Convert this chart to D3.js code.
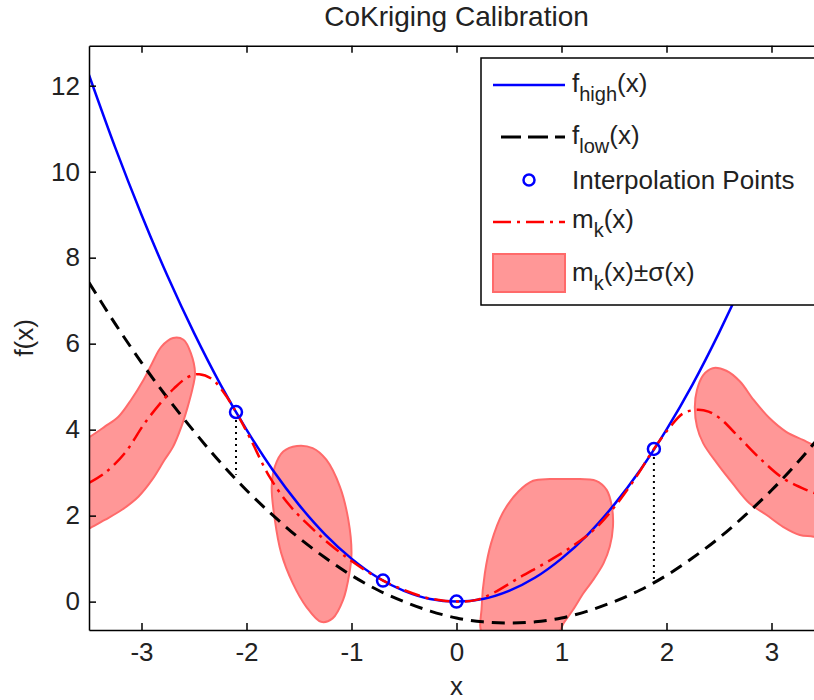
<!DOCTYPE html>
<html lang="en">
<head>
<meta charset="UTF-8">
<title>CoKriging Calibration</title>
<script src="https://d3js.org/d3.v7.min.js"></script>
<style>
  html, body { margin: 0; padding: 0; background: #fff; }
  svg { display: block; font-family: "Liberation Sans", Arial, sans-serif; }
  .tick text { font-size: 26px; fill: #222; }
</style>
</head>
<body>
<svg id="chart" width="814" height="700"></svg>
<script>
/* ---------- data ---------- */
const xGrid = [-3.5, -3.25, -3, -2.75, -2.5, -2.25, -2, -1.75, -1.5, -1.25, -1, -0.75, -0.5, -0.25,
               0, 0.25, 0.5, 0.75, 1, 1.25, 1.5, 1.75, 2, 2.25, 2.5, 2.75, 3, 3.25, 3.5];
const fHigh = [12.25, 10.56, 9.0, 7.56, 6.25, 5.06, 4.0, 3.06, 2.25, 1.56, 1.0, 0.56, 0.25, 0.06,
               0, 0.06, 0.25, 0.56, 1.0, 1.56, 2.25, 3.06, 4.0, 5.06, 6.25, 7.56, 9.0, 10.56, 12.25];
const fLow  = [7.42, 6.46, 5.56, 4.73, 3.96, 3.24, 2.59, 2.01, 1.48, 1.02, 0.61, 0.27, 0.0, -0.22,
               -0.38, -0.47, -0.5, -0.47, -0.38, -0.22, 0.0, 0.27, 0.61, 1.02, 1.48, 2.01, 2.59, 3.24, 3.96];

// kriging mean m_k(x)
const mkX = [-3.5, -3.35, -3.16, -2.97, -2.78, -2.69, -2.56, -2.45, -2.33, -2.21, -2.1, -1.97, -1.78,
             -1.59, -1.4, -1.21, -1.02, -0.85, -0.7, -0.5, -0.3, -0.15, 0, 0.19, 0.35, 0.6, 0.89,
             1.14, 1.33, 1.52, 1.7, 1.88, 2.03, 2.16, 2.29, 2.4, 2.51, 2.7, 2.92, 3.11, 3.33, 3.5];
const mkY = [2.76, 2.99, 3.45, 4.15, 4.73, 4.96, 5.22, 5.29, 5.18, 4.84, 4.41, 3.82, 2.9,
             2.24, 1.76, 1.34, 0.98, 0.7, 0.49, 0.27, 0.1, 0.03, 0, 0.04, 0.2, 0.56, 0.96,
             1.35, 1.72, 2.25, 2.86, 3.55, 4.05, 4.38, 4.46, 4.42, 4.26, 3.8, 3.26, 2.87, 2.6, 2.45];

// interpolation points and the dotted drops to f_low
const ptsX = [-2.1, -0.7, 0, 1.88];
const ptsY = [4.41, 0.49, 0, 3.55];
const dropX = [-2.1, 1.88];
const dropTop = [4.41, 3.55];
const dropBottom = [2.95, 0.47];

// m_k(x) ± sigma(x) patches (outlines)
const blobAx = [-3.6, -3.49, -3.35, -3.22, -3.1, -2.98, -2.9, -2.81, -2.7, -2.6, -2.53, -2.49, -2.51,
                -2.56, -2.62, -2.7, -2.78, -2.9, -3.03, -3.19, -3.35, -3.49, -3.6];
const blobAy = [3.7, 3.84, 4.07, 4.3, 4.69, 5.16, 5.54, 5.93, 6.13, 6.09, 5.78, 5.31, 5.0,
                4.53, 4.07, 3.6, 3.3, 2.83, 2.44, 2.13, 1.9, 1.71, 1.6];
const blobBx = [-1.52, -1.65, -1.73, -1.76, -1.73, -1.67, -1.56, -1.43, -1.29, -1.18, -1.08, -1.02,
                -1.0, -1.03, -1.11, -1.24, -1.37];
const blobBy = [3.62, 3.49, 3.14, 2.67, 1.9, 1.13, 0.43, -0.12, -0.47, -0.39, 0.04, 0.66,
                1.13, 1.9, 2.67, 3.3, 3.57];
const blobCx = [0.25, 0.24, 0.27, 0.33, 0.44, 0.59, 0.73, 0.89, 1.08, 1.33, 1.43, 1.48, 1.49,
                1.46, 1.4, 1.3, 1.21, 1.11, 1.02, 0.95, 0.6];
const blobCy = [-0.75, -0.12, 0.66, 1.36, 2.06, 2.56, 2.81, 2.85, 2.85, 2.81, 2.6, 2.21, 1.74,
                1.28, 0.89, 0.5, 0.2, -0.19, -0.5, -0.8, -1.0];
const blobDx = [2.29, 2.27, 2.29, 2.35, 2.44, 2.57, 2.7, 2.83, 2.98, 3.14, 3.3, 3.4, 3.6,
                3.6, 3.4, 3.27, 3.11, 2.95, 2.79, 2.63, 2.48, 2.35];
const blobDy = [4.07, 4.53, 4.92, 5.27, 5.43, 5.37, 5.12, 4.69, 4.27, 3.95, 3.76, 3.64, 3.45,
                1.4, 1.51, 1.55, 1.74, 2.02, 2.29, 2.75, 3.22, 3.68];

const xTicks = [-3, -2, -1, 0, 1, 2, 3];
const yTicks = [0, 2, 4, 6, 8, 10, 12];

/* ---------- layout ---------- */
const svg = d3.select('#chart');
const pLeft = 89, pRight = 824, pTop = 45.7, pBottom = 630;

const x = d3.scaleLinear().domain([-3.5, 3.5]).range([pLeft, pRight]);
const y = d3.scaleLinear().domain([-0.66, 12.93]).range([pBottom, pTop]);

svg.append('defs').append('clipPath').attr('id', 'plotClip')
  .append('rect').attr('x', pLeft).attr('y', pTop)
  .attr('width', pRight - pLeft).attr('height', pBottom - pTop);

const plot = svg.append('g').attr('clip-path', 'url(#plotClip)');

const bandFill = '#ff9797', bandEdge = '#ff6a6a';
const blobLine = d3.line().x(d => x(d[0])).y(d => y(d[1])).curve(d3.curveCatmullRomClosed);
[[blobAx, blobAy], [blobBx, blobBy], [blobCx, blobCy], [blobDx, blobDy]].forEach(([bx, by]) => {
  plot.append('path')
    .attr('d', blobLine(bx.map((v, i) => [v, by[i]])))
    .attr('fill', bandFill).attr('stroke', bandEdge).attr('stroke-width', 2);
});

const curve = d3.line().x(d => x(d[0])).y(d => y(d[1])).curve(d3.curveCatmullRom);

plot.append('path')
  .attr('d', curve(xGrid.map((v, i) => [v, fLow[i]])))
  .attr('fill', 'none').attr('stroke', '#000').attr('stroke-width', 3)
  .attr('stroke-dasharray', '13,8');

plot.append('path')
  .attr('d', curve(xGrid.map((v, i) => [v, fHigh[i]])))
  .attr('fill', 'none').attr('stroke', '#0000ff').attr('stroke-width', 2.5);

plot.append('path')
  .attr('d', curve(mkX.map((v, i) => [v, mkY[i]])))
  .attr('fill', 'none').attr('stroke', '#ff0000').attr('stroke-width', 2.5)
  .attr('stroke-dasharray', '16,6,3,6');

plot.selectAll('line.drop').data(dropX).join('line')
  .attr('class', 'drop')
  .attr('x1', d => x(d)).attr('x2', d => x(d))
  .attr('y1', (d, i) => y(dropTop[i]) + 8).attr('y2', (d, i) => y(dropBottom[i]))
  .attr('stroke', '#000').attr('stroke-width', 2).attr('stroke-dasharray', '2,4');

plot.selectAll('circle.pt').data(ptsX).join('circle')
  .attr('class', 'pt')
  .attr('cx', d => x(d)).attr('cy', (d, i) => y(ptsY[i]))
  .attr('r', 6).attr('fill', 'none').attr('stroke', '#0000ff').attr('stroke-width', 2.5);

/* ---------- axes ---------- */
const fmt = d => String(d);
const xAxis = svg.append('g').attr('transform', `translate(0,${pBottom})`)
  .call(d3.axisBottom(x).tickValues(xTicks).tickFormat(fmt).tickSizeInner(-7).tickSizeOuter(0).tickPadding(13));
const xTop = svg.append('g').attr('transform', `translate(0,${pTop})`)
  .call(d3.axisTop(x).tickValues(xTicks).tickFormat('').tickSizeInner(-7).tickSizeOuter(0));
const yAxis = svg.append('g').attr('transform', `translate(${pLeft},0)`)
  .call(d3.axisLeft(y).tickValues(yTicks).tickFormat(fmt).tickSizeInner(-7).tickSizeOuter(0).tickPadding(9));
[xAxis, xTop, yAxis].forEach(g => {
  g.selectAll('path.domain').attr('stroke', '#000').attr('stroke-width', 1.5);
  g.selectAll('.tick line').attr('stroke', '#000').attr('stroke-width', 1.5);
  g.selectAll('.tick text').attr('font-size', 26).attr('fill', '#222')
    .attr('font-family', '"Liberation Sans", Arial, sans-serif');
});

svg.append('text').attr('x', (pLeft + pRight) / 2).attr('y', 26)
  .attr('text-anchor', 'middle').attr('font-size', 28).attr('fill', '#222')
  .text('CoKriging Calibration');
svg.append('text').attr('x', (pLeft + pRight) / 2).attr('y', 695)
  .attr('text-anchor', 'middle').attr('font-size', 26).attr('fill', '#222').text('x');
svg.append('text').attr('transform', `translate(33,${(pTop + pBottom) / 2}) rotate(-90)`)
  .attr('text-anchor', 'middle').attr('font-size', 26).attr('fill', '#222').text('f(x)');

/* ---------- legend ---------- */
const lg = svg.append('g');
lg.append('rect').attr('x', 481).attr('y', 58).attr('width', 334).attr('height', 247)
  .attr('fill', '#fff').attr('stroke', '#000').attr('stroke-width', 1.5);

const sx0 = 493, sx1 = 565, tx = 572;
lg.append('line').attr('x1', sx0).attr('x2', sx1).attr('y1', 85).attr('y2', 85)
  .attr('stroke', '#0000ff').attr('stroke-width', 2.5);
lg.append('line').attr('x1', sx0 + 8).attr('x2', sx1).attr('y1', 137).attr('y2', 137)
  .attr('stroke', '#000').attr('stroke-width', 3).attr('stroke-dasharray', '20,7');
lg.append('circle').attr('cx', (sx0 + sx1) / 2).attr('cy', 180).attr('r', 5.5)
  .attr('fill', 'none').attr('stroke', '#0000ff').attr('stroke-width', 2.5);
lg.append('line').attr('x1', sx0).attr('x2', sx1).attr('y1', 222).attr('y2', 222)
  .attr('stroke', '#ff0000').attr('stroke-width', 2.5).attr('stroke-dasharray', '18,6,3,6');
lg.append('rect').attr('x', sx0).attr('y', 254).attr('width', sx1 - sx0).attr('height', 38)
  .attr('fill', bandFill).attr('stroke', bandEdge).attr('stroke-width', 2);

function legendText(yb, parts) {
  const t = lg.append('text').attr('x', tx).attr('y', yb).attr('font-size', 26).attr('fill', '#222');
  let shift = 0;
  parts.forEach(p => {
    const s = t.append('tspan').text(p.s);
    const want = p.sub ? 9 : 0;
    if (want !== shift) { s.attr('dy', want - shift); shift = want; }
    if (p.sub) s.attr('font-size', 20);
  });
}
legendText(92, [{s: 'f'}, {s: 'high', sub: true}, {s: '(x)'}]);
legendText(144, [{s: 'f'}, {s: 'low', sub: true}, {s: '(x)'}]);
legendText(189, [{s: 'Interpolation Points'}]);
legendText(228, [{s: 'm'}, {s: 'k', sub: true}, {s: '(x)'}]);
legendText(281, [{s: 'm'}, {s: 'k', sub: true}, {s: '(x)\u00b1\u03c3(x)'}]);
</script>
</body>
</html>
